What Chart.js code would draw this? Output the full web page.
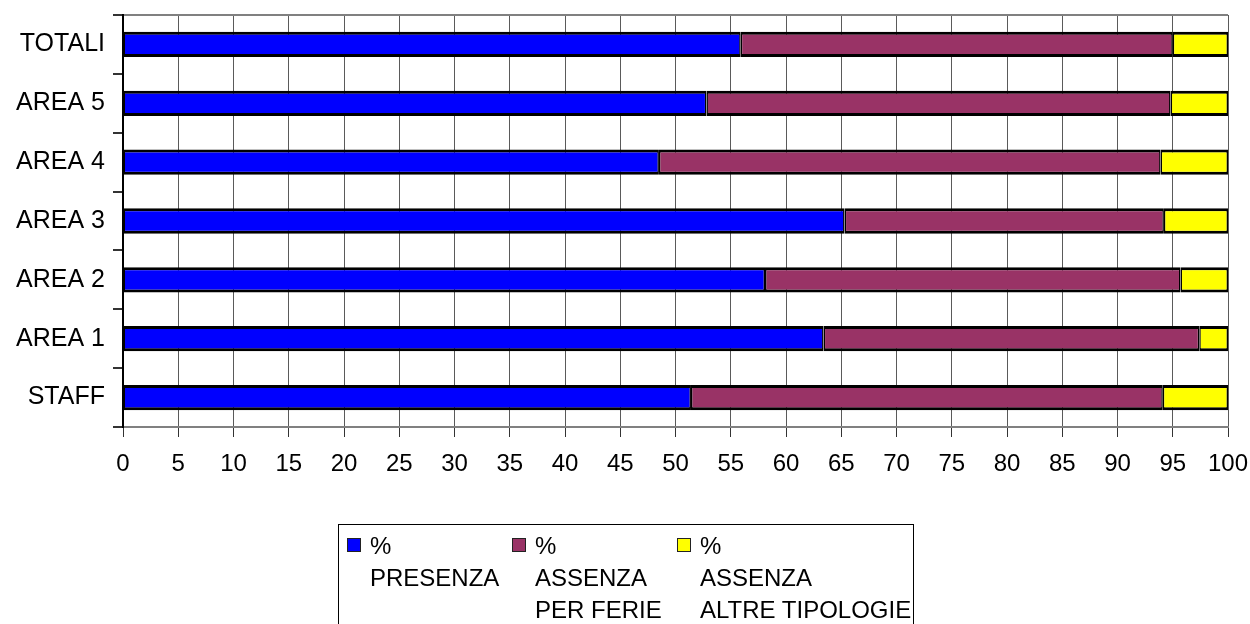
<!DOCTYPE html>
<html>
<head>
<meta charset="utf-8">
<script src="https://cdn.jsdelivr.net/npm/chart.js@4.4.0/dist/chart.umd.min.js"></script>
<style>
  body { margin: 0; background: #fff; font-family: "Liberation Sans", Arial, sans-serif; }
  #wrap { position: absolute; left: 0; top: 0; width: 1250px; height: 624px; overflow: hidden; }
  #legend { position: absolute; left: 338px; top: 524px; width: 576px; height: 130px; border: 1px solid #000; box-sizing: border-box; }
  .item { position: absolute; top: 0; }
  .box { position: absolute; top: 13px; width: 14px; height: 14px; border: 1px solid #222; box-sizing: border-box; }
  .txt { position: absolute; left: 23px; top: 5px; font-size: 24px; line-height: 32px; color: #000; white-space: pre; }
</style>
</head>
<body>
<div id="wrap">
  <canvas id="chart"></canvas>
  <div id="legend"></div>
</div>
<script>
const categories = ['TOTALI', 'AREA 5', 'AREA 4', 'AREA 3', 'AREA 2', 'AREA 1', 'STAFF'];
const presenza = [55.9, 52.8, 48.5, 65.3, 58.1, 63.4, 51.4];
const ferie = [39.1, 42.0, 45.4, 28.9, 37.6, 34.0, 42.7];
const altre = [5.0, 5.2, 6.1, 5.8, 4.3, 2.6, 5.9];
const seriesNames = [['%', 'PRESENZA'], ['%', 'ASSENZA', 'PER FERIE'], ['%', 'ASSENZA', 'ALTRE TIPOLOGIE']];
const seriesColors = ['#0000ff', '#993366', '#ffff00'];

const fontFamily = '"Liberation Sans", Arial, sans-serif';
const values = [presenza, ferie, altre];

const datasets = values.map((vals, i) => ({
    label: seriesNames[i].join(' '),
    data: vals,
    backgroundColor: seriesColors[i],
    borderColor: '#000',
    borderWidth: { top: 3, bottom: 3, left: 1.5, right: 1.5 },
    borderSkipped: false,
    barPercentage: 0.43,
    categoryPercentage: 1
}));

const chart = new Chart(document.getElementById('chart'), {
    type: 'bar',
    data: { labels: categories, datasets: datasets },
    options: {
        indexAxis: 'y',
        responsive: true,
        maintainAspectRatio: false,
        animation: false,
        layout: { padding: { top: 15, right: 22, left: 0, bottom: 0 } },
        plugins: { legend: { display: false }, tooltip: { enabled: false } },
        scales: {
            x: {
                stacked: true,
                min: 0,
                max: 100,
                ticks: { stepSize: 5, color: '#000', padding: 13, font: { family: fontFamily, size: 24 } },
                grid: { color: '#5a5a5a', tickColor: '#333', tickLength: 10, lineWidth: 1 },
                border: { color: '#808080', width: 2 },
                afterFit: (scale) => { scale.height = 197; scale.paddingRight = 0; scale.paddingLeft = 0; }
            },
            y: {
                stacked: true,
                ticks: { color: '#000', padding: 8, font: { family: fontFamily, size: 25 } },
                grid: {
                    offset: true,
                    tickLength: 10,
                    tickColor: '#333',
                    lineWidth: 2,
                    color: (ctx) => (ctx.type === 'scale' || ctx.index === 0) ? '#808080' : 'transparent'
                },
                border: { color: '#000', width: 2 },
                afterFit: (scale) => { scale.width = 123; scale.paddingTop = 0; scale.paddingBottom = 0; }
            }
        }
    }
});

// legend built from the series names and colours
const legend = document.getElementById('legend');
seriesNames.forEach((lines, i) => {
    const item = document.createElement('div');
    item.className = 'item';
    item.style.left = (8 + i * 165) + 'px';
    const box = document.createElement('div');
    box.className = 'box';
    box.style.background = seriesColors[i];
    const txt = document.createElement('div');
    txt.className = 'txt';
    txt.textContent = lines.join('\n');
    item.appendChild(box);
    item.appendChild(txt);
    legend.appendChild(item);
});
</script>
</body>
</html>
